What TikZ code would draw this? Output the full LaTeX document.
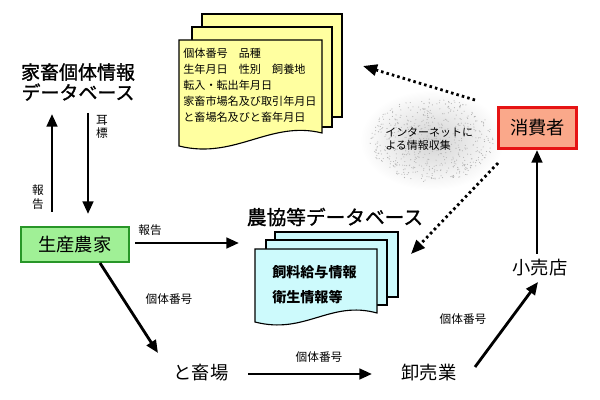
\documentclass[tikz,border=0pt]{standalone}
\usepackage{fontspec}
\setmainfont{Noto Sans CJK JP}
\newfontfamily\jpmid[FakeBold=1.2]{Noto Sans CJK JP}
\usetikzlibrary{arrows.meta,calc}
\definecolor{farmfill}{RGB}{160,240,150}
\definecolor{farmedge}{RGB}{40,150,40}
\definecolor{consfill}{RGB}{250,168,138}
\definecolor{consedge}{RGB}{230,20,20}
\definecolor{docy}{RGB}{255,255,160}
\definecolor{docb}{RGB}{205,250,252}
\begin{document}
\begin{tikzpicture}[x=0.025cm,y=-0.025cm,
  arr/.style={line width=2pt,-{Triangle[length=9pt,width=7.5pt]}},
  dotarr/.style={line width=2pt,dash pattern=on 1.8pt off 2.2pt,-{Triangle[length=10pt,width=8pt]}},
  big/.style={font=\fontsize{13}{15}\selectfont,inner sep=0pt},
  titlef/.style={font=\jpmid\fontsize{13.5}{14.5}\selectfont,align=center,inner sep=0pt},
  small/.style={font=\fontsize{8.3}{9.5}\selectfont,inner sep=0pt},
  pagey/.style={draw=black,line width=0.8pt,fill=docy},
  pageb/.style={draw=black,line width=0.8pt,fill=docb},
]
\useasboundingbox[fill=white] (0,0) rectangle (600,400);

% cloud
\shade[inner color=gray!35, outer color=white] (432,140) ellipse [x radius=72, y radius=50];
\pgfmathsetseed{7}
\foreach \i in {1,...,600}{
  \pgfmathsetmacro\ang{rnd*360}
  \pgfmathsetmacro\rr{sqrt(rnd)}
  \fill[gray!60] ({432+62*\rr*cos(\ang)},{140+42*\rr*sin(\ang)}) circle (0.55);
}
\node[anchor=west,align=left,font=\fontsize{7.8}{9.3}\selectfont,inner sep=0pt] (net) at (385,139) {インターネットに\\よる情報収集};

% yellow multidocument
\draw[pagey] (202,14) rectangle (342,117);
\draw[pagey] (192,27) rectangle (332,127);
\draw[pagey] (179,40) -- (322,40) -- (322,133) .. controls (270,120) and (235,160) .. (179,146) -- cycle;
\node[anchor=west,align=left,font=\fontsize{7.9}{11.4}\selectfont,inner sep=0pt] (yinfo) at (183,85)
 {個体番号　品種\\生年月日　性別　飼養地\\転入・転出年月日\\家畜市場名及び取引年月日\\と畜場名及びと畜年月日};

% blue multidocument
\node[titlef,font=\jpmid\fontsize{14}{15}\selectfont] (coop) at (335,217) {農協等データベース};
\draw[pageb] (275,232) rectangle (398,297);
\draw[pageb] (266,240) rectangle (387,305);
\draw[pageb] (255,249) -- (377,249) -- (377,313) .. controls (330,300) and (305,335) .. (255,322) -- cycle;
\node[anchor=west,align=left,font=\bfseries\fontsize{10}{17.8}\selectfont,inner sep=0pt] (binfo) at (272,284.5)
 {飼料給与情報\\衛生情報等};

% title DB
\node[titlef] (db1) at (78,82) {家畜個体情報\\データベース};

% boxes
\node[draw=farmedge,line width=1.5pt,fill=farmfill,minimum width=2.7cm,minimum height=0.87cm,big] (farm) at (75,244.5) {生産農家};
\node[draw=consedge,line width=1.6pt,fill=consfill,minimum width=1.95cm,minimum height=1.02cm,big] (cons) at (537.5,128) {消費者};
\node[big] (retail) at (540,268) {小売店};
\node[big] (slaughter) at (201,373) {と畜場};
\node[big] (whole) at (429,373) {卸売業};

% labels
\node[small,align=center] (l1) at (38,197) {報\\告};
\node[small,align=center] (l2) at (102,127) {耳\\標};
\node[small] (l3) at (150,230) {報告};
\node[small] (l4) at (169,299) {個体番号};
\node[small] (l5) at (463,319) {個体番号};
\node[small] (l6) at (319,357) {個体番号};

% arrow end coordinates
\coordinate (upS) at (52,212);
\coordinate (upE) at (52,114);
\coordinate (dnS) at (88,113);
\coordinate (dnE) at (88,214);
\coordinate (rpS) at (135,243);
\coordinate (rpE) at (239,243);
\coordinate (dgS) at (100,263);
\coordinate (dgE) at (158,353);
\coordinate (slS) at (248,374);
\coordinate (slE) at (372,374);
\coordinate (whS) at (475,367);
\coordinate (whE) at (538,282);
\coordinate (rtS) at (537,254);
\coordinate (rtE) at (537,150);
\coordinate (d1S) at (475,100);
\coordinate (d1E) at (363,66);
\coordinate (d2S) at (498,163);
\coordinate (d2E) at (411,254);

\draw[arr] (upS) -- (upE);
\draw[arr] (dnS) -- (dnE);
\draw[arr] (rpS) -- (rpE);
\draw[arr] (dgS) -- (dgE);
\draw[arr] (slS) -- (slE);
\draw[arr] (whS) -- (whE);
\draw[arr] (rtS) -- (rtE);
\draw[dotarr] (d1S) -- (d1E);
\draw[dotarr] (d2S) -- (d2E);
\end{tikzpicture}
\end{document}
